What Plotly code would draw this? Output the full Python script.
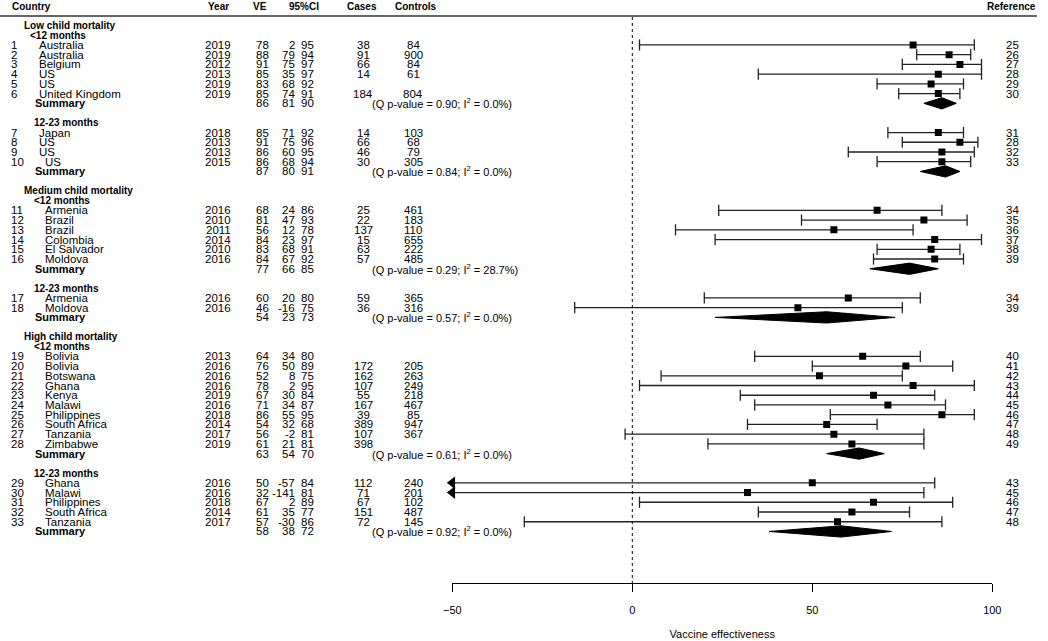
import plotly.graph_objects as go

# study rows
countries = ["Australia", "Australia", "Belgium", "US", "US", "United Kingdom",
             "Japan", "US", "US", "US",
             "Armenia", "Brazil", "Brazil", "Colombia", "El Salvador", "Moldova",
             "Armenia", "Moldova",
             "Bolivia", "Bolivia", "Botswana", "Ghana", "Kenya", "Malawi", "Philippines",
             "South Africa", "Tanzania", "Zimbabwe",
             "Ghana", "Malawi", "Philippines", "South Africa", "Tanzania"]
years = [2019, 2019, 2012, 2013, 2019, 2019,
         2018, 2013, 2013, 2015,
         2016, 2010, 2011, 2014, 2010, 2016,
         2016, 2016,
         2013, 2016, 2016, 2016, 2019, 2016, 2018, 2014, 2017, 2019,
         2016, 2016, 2018, 2014, 2017]
ve = [78, 88, 91, 85, 83, 85,
      85, 91, 86, 86,
      68, 81, 56, 84, 83, 84,
      60, 46,
      64, 76, 52, 78, 67, 71, 86, 54, 56, 61,
      50, 32, 67, 61, 57]
ci_lo = [2, 79, 75, 35, 68, 74,
         71, 75, 60, 68,
         24, 47, 12, 23, 68, 67,
         20, -16,
         34, 50, 8, 2, 30, 34, 55, 32, -2, 21,
         -57, -141, 2, 35, -30]
ci_hi = [95, 94, 97, 97, 92, 91,
         92, 96, 95, 94,
         86, 93, 78, 97, 91, 92,
         80, 75,
         80, 89, 75, 95, 84, 87, 95, 68, 81, 81,
         84, 81, 89, 77, 86]
cases = [38, 91, 66, 14, None, 184,
         14, 66, 46, 30,
         25, 22, 137, 15, 63, 57,
         59, 36,
         None, 172, 162, 107, 55, 167, 39, 389, 107, 398,
         112, 71, 67, 151, 72]
controls = [84, 900, 84, 61, None, 804,
            103, 68, 79, 305,
            461, 183, 110, 655, 222, 485,
            365, 316,
            None, 205, 263, 249, 218, 467, 85, 947, 367, None,
            240, 201, 102, 487, 145]
refs = [25, 26, 27, 28, 29, 30,
        31, 28, 32, 33,
        34, 35, 36, 37, 38, 39,
        34, 39,
        40, 41, 42, 43, 44, 45, 46, 47, 48, 49,
        43, 45, 46, 47, 48]

# summaries (one per subgroup)
mortality = ["Low child mortality", "Medium child mortality", "High child mortality"]
age_groups = ["<12 months", "12-23 months"]
subgroup_sizes = [6, 4, 6, 2, 10, 5]
sum_ve = [86, 87, 77, 54, 63, 58]
sum_lo = [81, 80, 66, 23, 54, 38]
sum_hi = [90, 91, 85, 73, 70, 72]
q_pval = ["0.90", "0.84", "0.29", "0.57", "0.61", "0.92"]
i2 = ["0.0", "0.0", "28.7", "0.0", "0.0", "0.0"]

AXMIN = -50
FONT = "Liberation Sans, Arial, sans-serif"
W, H = 1048, 641
FS = 11.5

# ---- row layout (one unit per text line) ----
study_line, sum_line, head_lines, sub_lines = [], [], [], []
line = 0
si = 0
for m in range(3):
    head_lines.append(line)
    line += 1
    for a in range(2):
        sub_lines.append((line, age_groups[a], m))
        line += 1
        for _ in range(subgroup_sizes[si]):
            study_line.append(line)
            line += 1
        sum_line.append(line)
        line += 2
        si += 1

ann = []


def txt(xpx, y, s, anchor="center", bold=False, size=FS, yref="y"):
    ann.append(dict(x=xpx / W, xref="paper", y=y, yref=yref, text=f"<b>{s}</b>" if bold else s,
                    xanchor=anchor, yanchor="middle", showarrow=False,
                    font=dict(size=size, color="black", family=FONT)))


# headers (above the plotting area, so placed on paper)
hy = (H - 7) / H
for xp, s, anc in [(10, "Country", "left"), (218, "Year", "center"), (260, "VE", "center"),
                   (304, "95%CI", "center"), (362, "Cases", "center"), (416, "Controls", "center"),
                   (1011, "Reference", "center")]:
    txt(xp, hy, s, anc, True, 10, "paper")

for m, y in enumerate(head_lines):
    txt(22, y, mortality[m], "left", True, 10)
for y, lab, m in sub_lines:
    txt(28 if (m == 0 and lab.startswith("<")) else 32, y, lab, "left", True, 10)

for i, y in enumerate(study_line):
    txt(9, y, str(i + 1), "left")
    cx = 37 if i < 9 else 43
    txt(cx, y, countries[i], "left")
    txt(218, y, str(years[i]))
    txt(262, y, str(ve[i]))
    txt(297, y, str(ci_lo[i]), "right")
    txt(316, y, str(ci_hi[i]), "right")
    if cases[i] is not None:
        txt(363, y, str(cases[i]))
    if controls[i] is not None:
        txt(413, y, str(controls[i]))
    txt(1012, y, str(refs[i]))

for j, y in enumerate(sum_line):
    txt(33, y, "Summary", "left", True, 11)
    txt(262, y, str(sum_ve[j]))
    txt(297, y, str(sum_lo[j]), "right")
    txt(316, y, str(sum_hi[j]), "right")
    txt(370, y, f"(Q p-value = {q_pval[j]}; I<sup>2</sup> = {i2[j]}%)", "left", size=11)

# ---- marks ----
fig = go.Figure()

lx, ly = [], []
for i, y in enumerate(study_line):
    lx += [max(ci_lo[i], AXMIN), ci_hi[i], None]
    ly += [y, y, None]
fig.add_trace(go.Scatter(x=lx, y=ly, mode="lines", line=dict(color="#222", width=1.3),
                         hoverinfo="skip", cliponaxis=False))

cap_x = list(ci_hi) + [ci_lo[i] for i in range(len(ve)) if ci_lo[i] >= AXMIN]
cap_y = list(study_line) + [study_line[i] for i in range(len(ve)) if ci_lo[i] >= AXMIN]
fig.add_trace(go.Scatter(x=cap_x, y=cap_y, mode="markers",
                         marker=dict(symbol="line-ns-open", size=8, color="#222",
                                     line=dict(color="#222", width=1.3)),
                         hoverinfo="skip", cliponaxis=False))

arr_y = [study_line[i] for i in range(len(ve)) if ci_lo[i] < AXMIN]
fig.add_trace(go.Scatter(x=[AXMIN] * len(arr_y), y=arr_y, mode="markers",
                         marker=dict(symbol="triangle-left", size=11, color="black"),
                         hoverinfo="skip", cliponaxis=False))

fig.add_trace(go.Scatter(x=ve, y=study_line, mode="markers",
                         marker=dict(symbol="square", size=7, color="black"),
                         hoverinfo="skip"))

dh = 0.58
dx, dy = [], []
for j, y in enumerate(sum_line):
    dx += [sum_lo[j], sum_ve[j], sum_hi[j], sum_ve[j], sum_lo[j], None]
    dy += [y, y - dh, y, y + dh, y, None]
fig.add_trace(go.Scatter(x=dx, y=dy, mode="lines", fill="toself", fillcolor="black",
                         line=dict(color="black", width=1), hoverinfo="skip"))

y_top_px, y_bot_px = 16, 583.3
y0_px, step = 25.5, 9.73
yr_bot = (y_bot_px - y0_px) / step
yr_top = (y_top_px - y0_px) / step

fig.add_shape(type="line", xref="x", yref="y", x0=0, x1=0, y0=yr_top + 0.1, y1=yr_bot,
              line=dict(color="black", width=1, dash="dot"))
fig.add_shape(type="line", xref="paper", yref="paper", x0=0, x1=1037 / W,
              y0=(H - y_top_px) / H, y1=(H - y_top_px) / H, line=dict(color="#333", width=1.5))

fig.update_layout(
    width=W, height=H, margin=dict(l=0, r=0, t=0, b=0),
    paper_bgcolor="white", plot_bgcolor="white", showlegend=False,
    annotations=ann,
    font=dict(family=FONT, color="black"),
    xaxis=dict(domain=[452.3 / W, 992.3 / W], range=[-50, 100], tickvals=[-50, 0, 50, 100],
               ticks="outside", ticklen=8, tickwidth=1.2, tickcolor="black",
               showline=True, linecolor="black", linewidth=1.2, showgrid=False, zeroline=False,
               tickfont=dict(size=11, color="black"), ticklabelstandoff=8,
               title=dict(text="Vaccine effectiveness", font=dict(size=11, color="black"), standoff=15),
               automargin=False, fixedrange=True),
    yaxis=dict(domain=[(H - y_bot_px) / H, (H - y_top_px) / H], range=[yr_bot, yr_top],
               visible=False, fixedrange=True),
)

fig.write_html("out.html", config={"displayModeBar": False},
               post_script="document.body.style.margin='0';")
